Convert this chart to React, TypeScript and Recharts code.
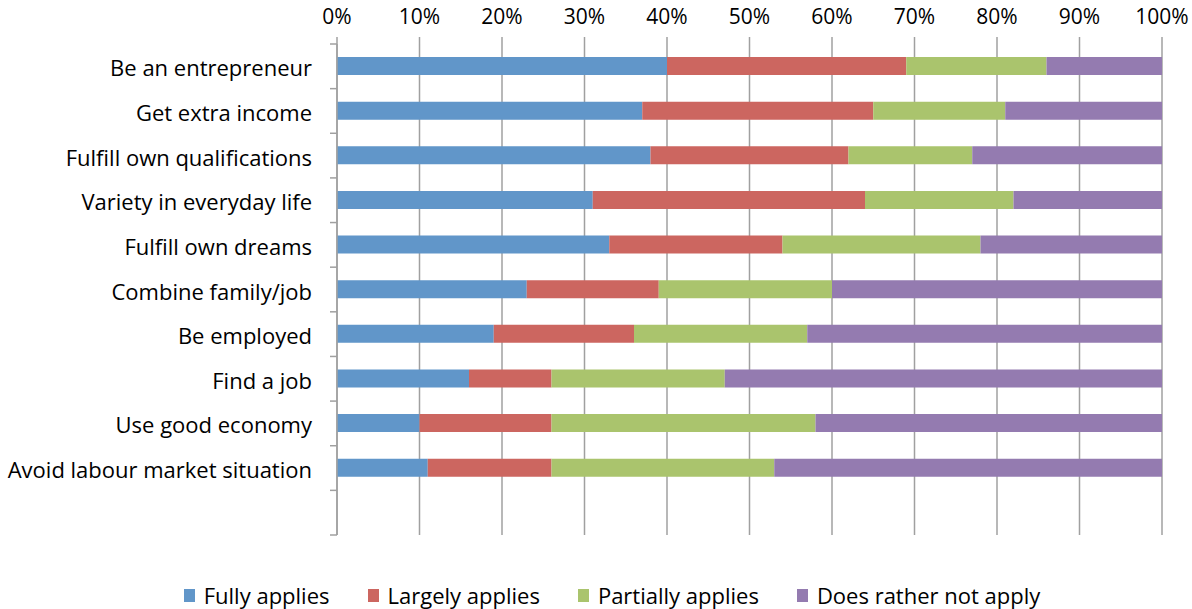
import React from 'react';
import { BarChart, Bar, XAxis, YAxis, CartesianGrid } from 'recharts';

// Answers per motive, in percent of respondents
const categories = [
  'Be an entrepreneur',
  'Get extra income',
  'Fulfill own qualifications',
  'Variety in everyday life',
  'Fulfill own dreams',
  'Combine family/job',
  'Be employed',
  'Find a job',
  'Use good economy',
  'Avoid labour market situation',
  '', // empty slot at the bottom, as in the original
];
const fullyApplies = [40, 37, 38, 31, 33, 23, 19, 16, 10, 11];
const largelyApplies = [29, 28, 24, 33, 21, 16, 17, 10, 16, 15];
const partiallyApplies = [17, 16, 15, 18, 24, 21, 21, 21, 32, 27];
const ratherNot = [14, 19, 23, 18, 22, 40, 43, 53, 42, 47];
const percentTicks = [0, 10, 20, 30, 40, 50, 60, 70, 80, 90, 100];

const seriesNames = ['Fully applies', 'Largely applies', 'Partially applies', 'Does rather not apply'];
const colors = ['#6196C9', '#CC6660', '#AAC46D', '#947BB0'];

const data = categories.map((name, i) => ({
  name,
  fully: fullyApplies[i] ?? null,
  largely: largelyApplies[i] ?? null,
  partially: partiallyApplies[i] ?? null,
  notApply: ratherNot[i] ?? null,
}));

const WIDTH = 1192;
const HEIGHT = 609;
const MARGIN = { top: 14, right: 30, bottom: 74, left: 0 };
const X_AXIS_HEIGHT = 30;
const Y_AXIS_WIDTH = 337;
const PLOT_TOP = MARGIN.top + X_AXIS_HEIGHT;
const PLOT_BOTTOM = HEIGHT - MARGIN.bottom;
const BAND = (PLOT_BOTTOM - PLOT_TOP) / categories.length;
const FONT = '"Open Sans", sans-serif';
const AXIS_GREY = '#A0A0A0';
const LABEL_GAP = 25;

// Excel style: tick marks sit between categories, labels in the middle
const CategoryTick = (props: any) => {
  const { x, y, payload, index } = props;
  const ax = x + LABEL_GAP;
  return (
    <g>
      <line x1={ax - 7} x2={ax} y1={y - BAND / 2} y2={y - BAND / 2} stroke={AXIS_GREY} strokeWidth={1.5} />
      {index === categories.length - 1 && (
        <line x1={ax - 7} x2={ax} y1={y + BAND / 2} y2={y + BAND / 2} stroke={AXIS_GREY} strokeWidth={1.5} />
      )}
      <text x={x} y={y} dy={10} textAnchor="end" fill="#000" fontSize={22} fontFamily={FONT}>
        {payload.value}
      </text>
    </g>
  );
};

const App: React.FC = () => {
  return (
    <div style={{ position: 'absolute', left: 0, top: 0, width: WIDTH, height: HEIGHT, background: '#fff' }}>
      <BarChart
        width={WIDTH}
        height={HEIGHT}
        data={data}
        layout="vertical"
        margin={MARGIN}
        barSize={18}
      >
        <CartesianGrid horizontal={false} stroke={AXIS_GREY} strokeWidth={1.5} />
        <XAxis
          type="number"
          orientation="top"
          domain={[0, 100]}
          ticks={percentTicks}
          tickFormatter={(v: number) => `${v}%`}
          height={X_AXIS_HEIGHT}
          axisLine={false}
          tickLine={{ stroke: AXIS_GREY, strokeWidth: 1.5 }}
          tickSize={7}
          tickMargin={13}
          tick={{ fill: '#000', fontSize: 21, fontFamily: FONT }}
          interval={0}
        />
        <YAxis
          type="category"
          dataKey="name"
          width={Y_AXIS_WIDTH}
          axisLine={{ stroke: AXIS_GREY, strokeWidth: 1.5 }}
          tickLine={false}
          tickSize={0}
          tickMargin={LABEL_GAP}
          tick={<CategoryTick />}
          interval={0}
        />
        <Bar dataKey="fully" stackId="a" fill={colors[0]} isAnimationActive={false} />
        <Bar dataKey="largely" stackId="a" fill={colors[1]} isAnimationActive={false} />
        <Bar dataKey="partially" stackId="a" fill={colors[2]} isAnimationActive={false} />
        <Bar dataKey="notApply" stackId="a" fill={colors[3]} isAnimationActive={false} />
      </BarChart>

      <div
        style={{
          position: 'absolute',
          left: 0,
          top: 580,
          width: 1224,
          display: 'flex',
          justifyContent: 'center',
          gap: 38,
          fontFamily: FONT,
          fontSize: 22,
          color: '#000',
          lineHeight: '30px',
        }}
      >
        {seriesNames.map((s, i) => (
          <div key={s} style={{ display: 'flex', alignItems: 'center' }}>
            <span style={{ display: 'inline-block', width: 11, height: 13, background: colors[i], marginRight: 9 }} />
            <span>{s}</span>
          </div>
        ))}
      </div>
    </div>
  );
};

export default App;
